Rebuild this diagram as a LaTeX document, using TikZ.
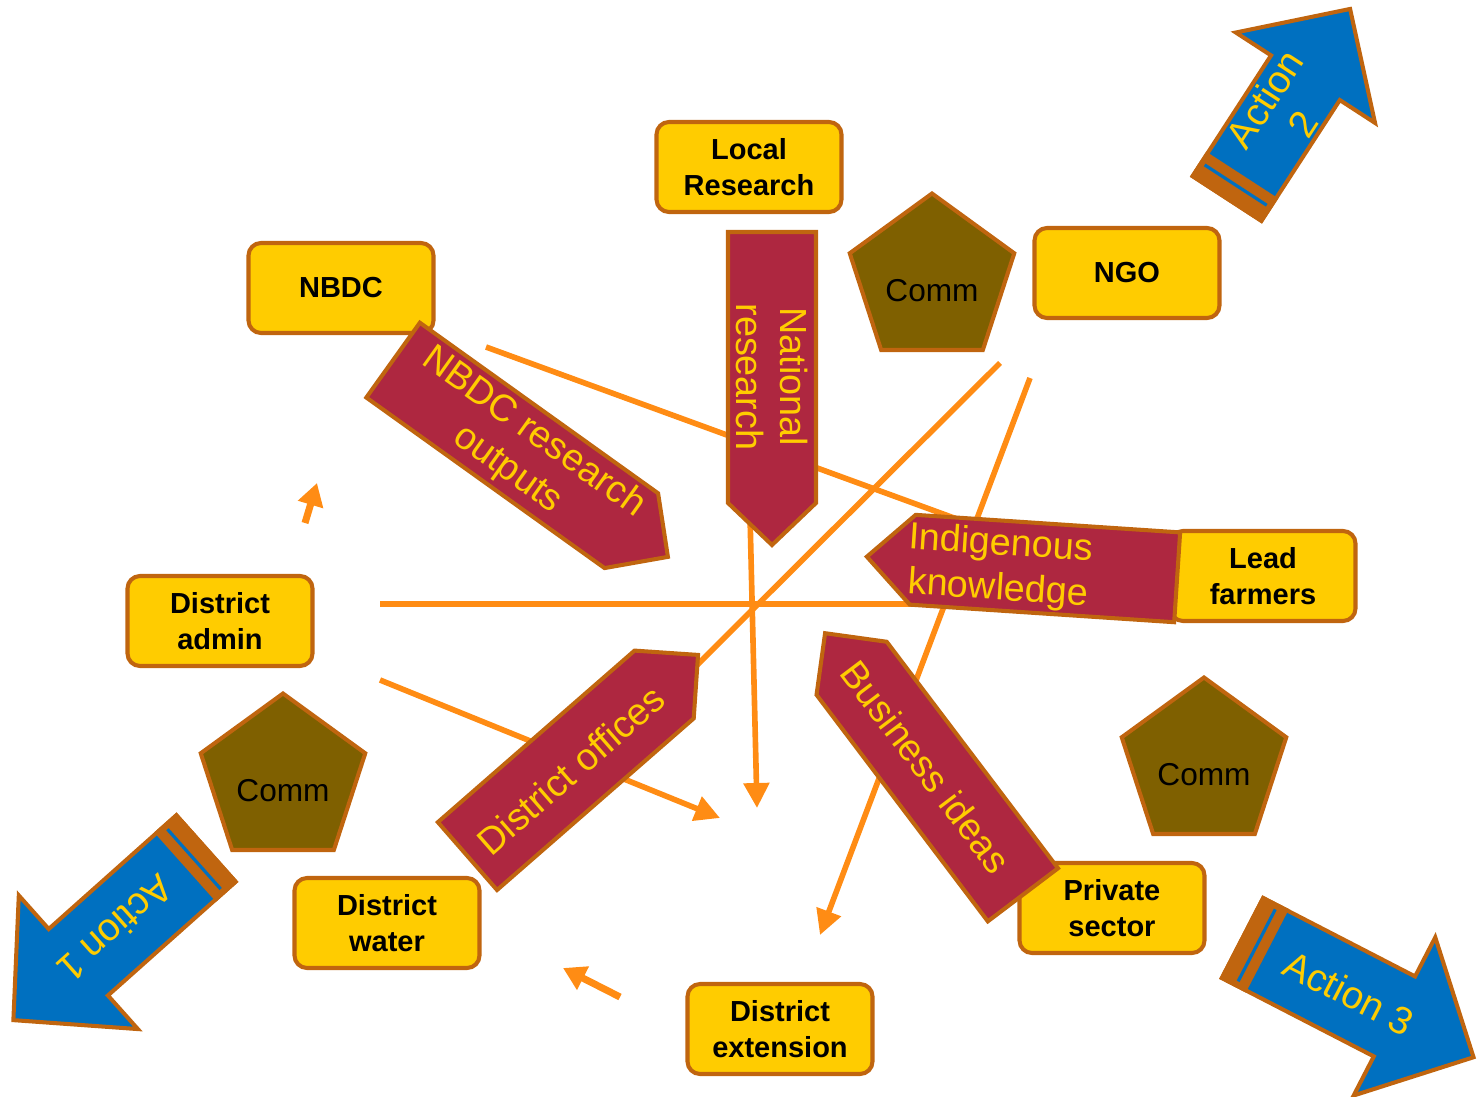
\documentclass[tikz,border=0pt]{standalone}
\usepackage{fontspec}
\setmainfont{Liberation Sans}
\usetikzlibrary{arrows.meta,shapes.geometric}

\definecolor{yel}{HTML}{FFCC00}
\definecolor{brd}{HTML}{C0650F}
\definecolor{crim}{HTML}{AE2740}
\definecolor{commfill}{HTML}{7F6000}
\definecolor{actblue}{HTML}{0070C0}
\definecolor{linkorange}{HTML}{FF8C14}

\begin{document}
\begin{tikzpicture}[
  actor/.style={rectangle, rounded corners=0.25cm, draw=brd, fill=yel, line width=2.3pt,
    minimum width=3.7cm, minimum height=1.8cm, align=center,
    font=\fontsize{16.5}{20.5}\selectfont\bfseries},
  commbox/.style={regular polygon, regular polygon sides=5, minimum size=3.46cm, inner sep=0pt,
    draw=brd, fill=commfill, line width=2.3pt, text height=0.86cm, text depth=0cm,
    font=\fontsize{18}{22}\selectfont},
  tag/.style={draw=brd, fill=crim, line width=2.3pt},
  tagtext/.style={text=yel, align=center, transform shape, font=\fontsize{21.5}{25.5}\selectfont},
  action/.style={draw=brd, fill=actblue, line width=2.3pt},
  acttext/.style={text=yel, align=center, transform shape, font=\fontsize{22}{26}\selectfont},
  link/.style={linkorange, line width=3.2pt},
  linkarrow/.style={link, -{Triangle[length=0.5cm,width=0.5cm]}},
  stub/.style={linkorange, line width=4pt, -{Triangle[length=0.45cm,width=0.5cm]}}
]

\useasboundingbox (0,0) rectangle (29.58,-21.94);

% free ends of the links
\coordinate (a0) at (7.60,-12.08);  \coordinate (a1) at (23.00,-12.08);
\coordinate (b0) at (9.72,-6.94);   \coordinate (b1) at (19.30,-10.44);
\coordinate (c0) at (20.00,-7.26);  \coordinate (c1) at (13.80,-13.44);
\coordinate (d0) at (20.60,-7.56);  \coordinate (d1) at (16.40,-18.70);
\coordinate (e0) at (15.00,-10.30); \coordinate (e1) at (15.14,-16.16);
\coordinate (f0) at (7.60,-13.60);  \coordinate (f1) at (14.40,-16.36);
\coordinate (g0) at (6.10,-10.46);  \coordinate (g1) at (6.34,-9.66);
\coordinate (k0) at (12.40,-19.94); \coordinate (k1) at (11.26,-19.36);

\begin{scope}
\draw [link] (a0) -- (a1); %admin-lead
\draw [link] (b0) -- (b1); %nbdc-indigenous
\draw [link] (c0) -- (c1); %ngo-offices
\draw [linkarrow] (d0) -- (d1); %ngo-extension
\draw [linkarrow] (e0) -- (e1); %research-down
\draw [linkarrow] (f0) -- (f1); %admin-centre
\draw [stub] (g0) -- (g1);
\draw [stub] (k0) -- (k1);
\end{scope}

\node [actor] (locres) at (14.98,-3.34) {Local\\Research};
\node [actor] (nbdc) at (6.82,-5.76) {NBDC};
\node [actor] (ngo) at (22.54,-5.46) {NGO};
\node [actor] (dadmin) at (4.40,-12.42) {District\\admin};
\node [actor] (lead) at (25.26,-11.52) {Lead\\farmers};
\node [actor] (dwater) at (7.74,-18.46) {District\\water};
\node [actor] (dext) at (15.60,-20.58) {District\\extension};
\node [actor] (private) at (22.24,-18.16) {Private\\sector};

\node [commbox] (comm1) at (18.64,-5.60) {Comm};
\node [commbox] (comm2) at (5.66,-15.60) {Comm};
\node [commbox] (comm3) at (24.08,-15.28) {Comm};

% NBDC research outputs
\begin{scope}[shift={(10.61,-9.17)}, rotate=-35.6]
\draw [tag] (-3.38,-0.92) -- (2.48,-0.92) -- (3.38,0) -- (2.48,0.92) -- (-3.38,0.92) -- cycle;
\node [tagtext] (nbdcout) at (-0.25,0) {NBDC research\\outputs};
\end{scope}

% National research
\begin{scope}[shift={(15.44,-7.77)}, rotate=-90]
\draw [tag] (-3.13,-0.88) -- (2.29,-0.88) -- (3.13,0) -- (2.29,0.88) -- (-3.13,0.88) -- cycle;
\node [tagtext] (natres) at (-0.23,0) {National\\research};
\end{scope}

% Indigenous knowledge
\begin{scope}[shift={(20.44,-11.34)}, rotate=-3.8]
\draw [tag] (3.11,-0.9) -- (-2.19,-0.9) -- (-3.11,0) -- (-2.19,0.9) -- (3.11,0.9) -- cycle;
\node [tagtext] (indig) at (-0.45,-0.04) {Indigenous\\knowledge};
\end{scope}

% District offices
\begin{scope}[shift={(11.655,-15.11)}, rotate=41.1]
\draw [tag] (-3.06,-0.9) -- (2.16,-0.9) -- (3.06,0) -- (2.16,0.9) -- (-3.06,0.9) -- cycle;
\node [tagtext] (doff) at (-0.37,-0.06) {District offices};
\end{scope}

% Business ideas
\begin{scope}[shift={(18.48,-15.28)}, rotate=-52.9]
\draw [tag] (3.28,-0.88) -- (-2.40,-0.88) -- (-3.28,0) -- (-2.40,0.88) -- (3.28,0.88) -- cycle;
\node [tagtext] (busid) at (0.07,0) {Business ideas};
\end{scope}

% Action 1
\begin{scope}[shift={(4.12,-16.97)}, rotate=221.7]
\draw [action] (0,-0.89) -- (3.42,-0.89) -- (3.42,-1.79) -- (5.16,0) -- (3.42,1.79) -- (3.42,0.89) -- (0,0.89) -- cycle;
\fill [brd] (-0.04,-0.93) rectangle (0.56,0.93);
\draw [actblue, line width=1.8pt] (0.32,-0.8) -- (0.32,0.8);
\node [acttext] (act1) at (2.42,0) {Action 1};
\end{scope}

% Action 2
\begin{scope}[shift={(24.54,-3.97)}, rotate=57]
\draw [action] (0,-0.82) -- (2.88,-0.82) -- (2.88,-1.66) -- (4.52,0) -- (2.88,1.66) -- (2.88,0.82) -- (0,0.82) -- cycle;
\fill [brd] (-0.04,-0.86) rectangle (0.56,0.86);
\draw [actblue, line width=1.8pt] (0.32,-0.74) -- (0.32,0.74);
\node [acttext] (act2) at (2.08,0) {Action\\2};
\end{scope}

% Action 3
\begin{scope}[shift={(24.85,-18.76)}, rotate=-27.3]
\draw [action] (0,-0.9) -- (3.42,-0.9) -- (3.42,-1.78) -- (5.2,0) -- (3.42,1.78) -- (3.42,0.9) -- (0,0.9) -- cycle;
\fill [brd] (-0.04,-0.94) rectangle (0.56,0.94);
\draw [actblue, line width=1.8pt] (0.32,-0.81) -- (0.32,0.81);
\node [acttext] (act3) at (2.4,0) {Action 3};
\end{scope}

\end{tikzpicture}
\end{document}
